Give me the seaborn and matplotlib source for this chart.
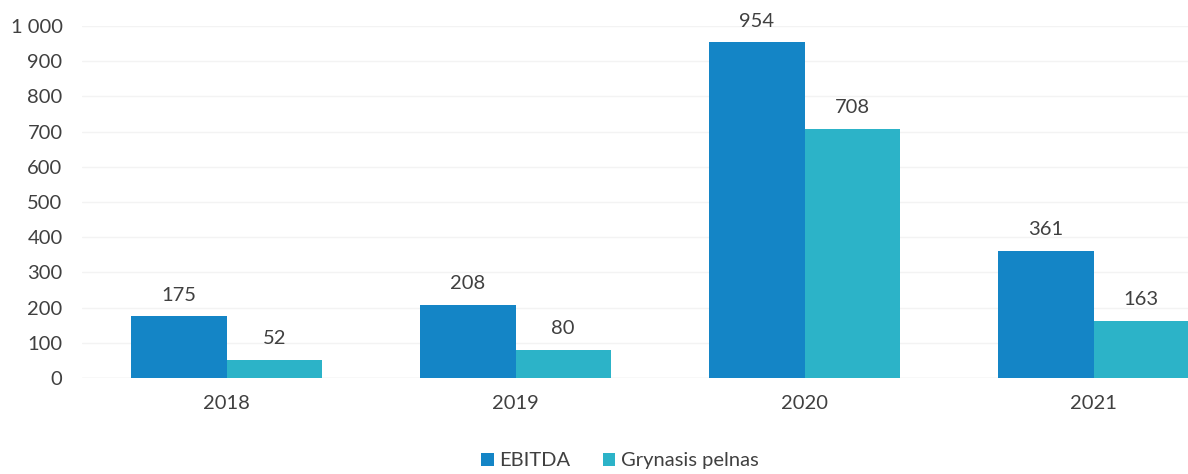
import matplotlib
matplotlib.use("Agg")
import matplotlib.pyplot as plt
import seaborn as sns
import pandas as pd
from matplotlib.ticker import FuncFormatter
from matplotlib.patches import Patch

years = ["2018", "2019", "2020", "2021"]
ebitda = [175, 208, 954, 361]
grynasis = [52, 80, 708, 163]
series_names = ["EBITDA", "Grynasis pelnas"]
colors = ["#1485c6", "#2cb3c8"]

df = pd.DataFrame({
    "year": years * 2,
    "value": ebitda + grynasis,
    "series": [series_names[0]] * 4 + [series_names[1]] * 4,
})

sns.set_style("white")
plt.rcParams["font.family"] = ["Lato", "DejaVu Sans"]
text_color = "#404040"

fig = plt.figure(figsize=(11.88, 4.74), dpi=100)
ax = fig.add_axes([82 / 1188, 96 / 474, (1238 - 82) / 1188, 352 / 474])

sns.barplot(data=df, x="year", y="value", hue="series", palette=colors,
            width=0.66, saturation=1, ax=ax, legend=False, linewidth=0)

for c in ax.containers:
    ax.bar_label(c, labels=[f"{int(v)}" for v in c.datavalues], padding=9,
                 fontsize=14.5, color=text_color)

ax.set_ylim(0, 1000)
ax.set_yticks(range(0, 1001, 100))
ax.yaxis.set_major_formatter(FuncFormatter(lambda v, p: f"{int(v):,}".replace(",", " ")))
ax.grid(axis="y", color="#f3f3f3", linewidth=1)
ax.set_axisbelow(True)
for s in ax.spines.values():
    s.set_visible(False)
ax.axhline(0, color="#e8e8e8", linewidth=1, zorder=0)
ax.tick_params(axis="both", length=0, labelsize=14.5, colors=text_color)
ax.tick_params(axis="x", pad=12)
ax.tick_params(axis="y", pad=14)
ax.set_xlabel("")
ax.set_ylabel("")

handles = [Patch(facecolor=c, edgecolor="none") for c in colors]
fig.legend(handles, series_names, loc="center", bbox_to_anchor=(0.522, 0.028),
           ncol=2, frameon=False, fontsize=14.5, handlelength=0.6, handleheight=0.6,
           handletextpad=0.3, columnspacing=1.6, labelcolor=text_color)

fig.savefig("out.png", dpi=100)
